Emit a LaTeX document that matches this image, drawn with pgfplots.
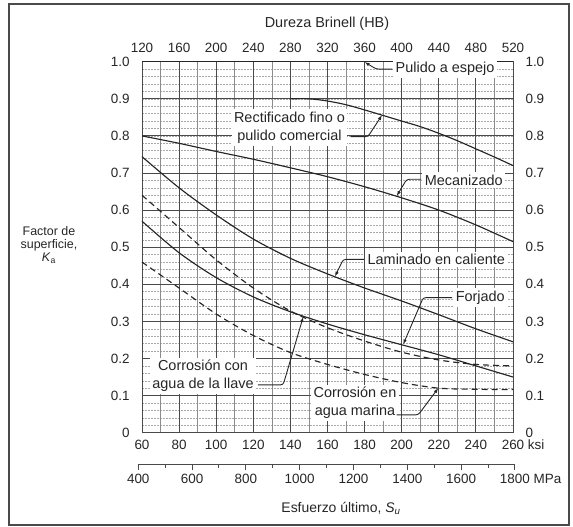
\documentclass[border=0pt]{standalone}
\usepackage{fontspec}
\setmainfont{Liberation Sans}
\usepackage{pgfplots}
\pgfplotsset{compat=1.18}
\usetikzlibrary{arrows.meta}
\definecolor{ink}{HTML}{262626}
\definecolor{gmaj}{HTML}{4A4A4A}
\definecolor{gmin}{HTML}{8C8C8C}
\definecolor{gdot}{HTML}{A8A8A8}
\pgfplotsset{
  base/.style={at={(0,0)}, anchor=south west, scale only axis, width=371bp, height=371bp,
    ymin=0, ymax=1, clip=false,
    tick label style={font=\fontsize{13.5}{16}\selectfont, text=ink},
    /pgf/number format/assume math mode=true},
}
\tikzset{lead/.style={ink, line width=0.9bp, rounded corners=2.5bp, -{Latex[length=5bp,width=3.6bp]}},
  lab/.style={fill=white, inner sep=2.5bp, text=ink, font=\fontsize{14.5}{18}\selectfont, align=center}}
\begin{document}
\begin{tikzpicture}[x=1bp,y=1bp]
\path[use as bounding box] (-142,432.7) rectangle (431,-94.3);
\draw[line width=1.8bp, gmaj] (-133,428.7) rectangle (427,-92.3);
% fine dotted horizontal grid
\begin{axis}[base, xmin=60, xmax=260, xtick=\empty,
  ytick={0,0.02,0.04,0.06,0.08,0.1,0.12,0.14,0.16,0.18,0.2,0.22,0.24,0.26,0.28,0.3,0.32,0.34,0.36,0.38,0.4,0.42,0.44,0.46,0.48,0.5,0.52,0.54,0.56,0.58,0.6,0.62,0.64,0.66,0.68,0.7,0.72,0.74,0.76,0.78,0.8,0.82,0.84,0.86,0.88,0.9,0.92,0.94,0.96,0.98,1},
  yticklabels={}, ymajorgrids, major grid style={gdot, line width=0.5bp, dash pattern=on 1.6bp off 1.4bp},
  major tick length=0, axis line style={draw=none}]
\end{axis}
% main axis
\begin{axis}[base, xmin=60, xmax=260,
  xtick={60,80,100,120,140,160,180,200,220,240,260},
  xticklabels={60,80,100,120,140,160,180,200,220,240,260\rlap{ ksi}},
  minor xtick={70,90,110,130,150,170,190,210,230,250},
  ytick={0,0.1,0.2,0.3,0.4,0.5,0.6,0.7,0.8,0.9,1},
  yticklabels={0,0.1,0.2,0.3,0.4,0.5,0.6,0.7,0.8,0.9,1.0},
  grid=both, major grid style={gmaj, line width=0.9bp}, minor grid style={gmin, line width=0.6bp},
  major tick length=0, minor tick length=0, axis line style={gmaj, line width=1bp},
  xticklabel style={yshift=-3.5bp}, yticklabel style={xshift=-9bp}]
% Pulido a espejo
\addplot[ink, line width=1.2bp] coordinates {(60,1) (260,1)};
% Rectificado fino o pulido comercial
\addplot[ink, line width=1.15bp, smooth] coordinates {(140,0.9)(150,0.9)(160,0.894)(170,0.884)(180,0.87)(190,0.855)(200,0.84)(210,0.825)(220,0.807)(230,0.787)(240,0.765)(250,0.743)(260,0.72)};
% Mecanizado
\addplot[ink, line width=1.15bp, smooth] coordinates {(60,0.80)(80,0.78)(100,0.758)(120,0.737)(140,0.714)(160,0.69)(180,0.663)(200,0.633)(220,0.60)(240,0.56)(260,0.515)};
% Laminado en caliente
\addplot[ink, line width=1.15bp, smooth] coordinates {(60,0.744)(80,0.66)(100,0.587)(120,0.522)(140,0.47)(160,0.428)(180,0.39)(200,0.355)(220,0.318)(240,0.28)(260,0.245)};
% Forjado
\addplot[ink, line width=1.15bp, smooth] coordinates {(60,0.57)(80,0.485)(100,0.418)(120,0.366)(140,0.326)(160,0.293)(180,0.264)(200,0.237)(220,0.21)(240,0.18)(260,0.15)};
% Corrosion con agua de la llave
\addplot[ink, line width=1.15bp, smooth, dash pattern=on 6bp off 4bp] coordinates {(60,0.64)(80,0.553)(100,0.466)(120,0.39)(140,0.328)(160,0.283)(180,0.247)(200,0.217)(220,0.196)(240,0.184)(260,0.18)};
% Corrosion en agua marina
\addplot[ink, line width=1.15bp, smooth, dash pattern=on 6bp off 4bp] coordinates {(60,0.46)(80,0.39)(100,0.32)(120,0.262)(140,0.216)(160,0.184)(180,0.157)(200,0.135)(220,0.12)(240,0.117)(260,0.116)};
% labels
\node[lab, anchor=west] at (axis cs:195.3,0.98) {Pulido a espejo};
\draw[lead] (axis cs:195,0.98) -- (axis cs:186.3,0.98) -- (axis cs:180,0.999);
\node[lab] at (axis cs:139.5,0.823) {Rectificado fino o\\pulido comercial};
\draw[lead] (axis cs:172.5,0.798) -- (axis cs:181.8,0.798) -- (axis cs:189.4,0.856);
\node[lab, anchor=west] at (axis cs:211,0.681) {Mecanizado};
\draw[lead] (axis cs:210.5,0.683) -- (axis cs:202.7,0.683) -- (axis cs:197.3,0.638);
\node[lab, anchor=west] at (axis cs:180.2,0.467) {Laminado en caliente};
\draw[lead] (axis cs:179.6,0.467) -- (axis cs:168.5,0.467) -- (axis cs:164,0.421);
\node[lab, anchor=west] at (axis cs:227.7,0.364) {Forjado};
\draw[lead] (axis cs:227.2,0.364) -- (axis cs:211.6,0.364) -- (axis cs:200.8,0.238);
\node[lab] at (axis cs:92.9,0.153) {Corrosión con\\agua de la llave};
\draw[lead] (axis cs:122.5,0.129) -- (axis cs:136.1,0.129) -- (axis cs:146.9,0.312);
\node[lab] at (axis cs:174.8,0.080) {Corrosión en\\agua marina};
\draw[lead] (axis cs:197.3,0.048) -- (axis cs:208.9,0.048) -- (axis cs:219.7,0.12);
\end{axis}
% top and right labels
\begin{axis}[base, xmin=120, xmax=520,
  xtick={120,160,200,240,280,320,360,400,440,480,520},
  ytick={0,0.1,0.2,0.3,0.4,0.5,0.6,0.7,0.8,0.9,1},
  yticklabels={0,0.1,0.2,0.3,0.4,0.5,0.6,0.7,0.8,0.9,1.0},
  xticklabel pos=top, yticklabel pos=right, axis line style={draw=none},
  major tick length=0, xticklabel style={yshift=6bp}, yticklabel style={xshift=9bp}]
\end{axis}
% MPa axis
\begin{axis}[at={(-3.74bp,-32bp)}, anchor=south west, scale only axis, width=376.66bp, height=10bp,
  xmin=400, xmax=1800, ymin=0, ymax=1, hide y axis, axis x line*=bottom,
  xtick={400,600,800,1000,1200,1400,1600,1800},
  xticklabels={400,600,800,1000,1200,1400,1600,1800\rlap{ MPa}},
  minor xtick={500,700,900,1100,1300,1500,1700},
  tick align=outside, major tick length=5bp, minor tick length=3bp,
  axis line style={gmaj, line width=1bp, -}, tick style={gmaj, line width=1bp},
  tick label style={font=\fontsize{13.5}{16}\selectfont, text=ink},
  xticklabel style={yshift=-1bp}]
\end{axis}
\node[text=ink, font=\fontsize{14.5}{17}\selectfont] at (185,408.7) {Dureza Brinell (HB)};
\node[text=ink, font=\fontsize{14}{17}\selectfont] at (199,-75.3) {Esfuerzo último, \textit{S}\textsubscript{\textit{u}}};
\node[text=ink, font=\fontsize{12.5}{13.4}\selectfont, align=center] at (-93,187.7) {Factor de\\superficie,\\\textit{K}\textsubscript{a}};
\end{tikzpicture}
\end{document}
